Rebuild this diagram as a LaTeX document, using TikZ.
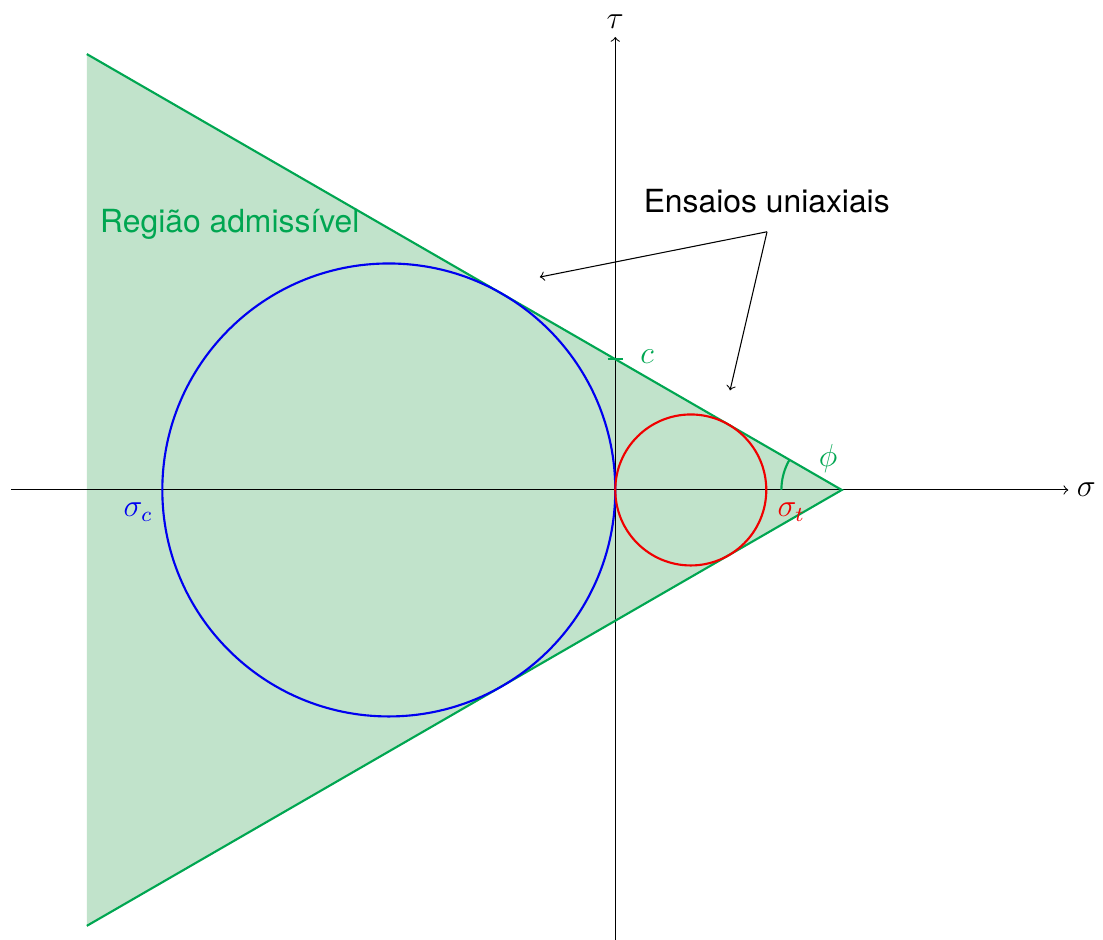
\documentclass[tikz,border=0pt]{standalone}
\usepackage{fontspec}
\setsansfont{TeX Gyre Heros}
\usetikzlibrary{calc}
\definecolor{mcgreen}{HTML}{00A651}
\definecolor{mcfill}{HTML}{C1E3CB}
\definecolor{mcblue}{HTML}{0000F0}
\definecolor{mcred}{HTML}{F00000}

\begin{document}
\begin{tikzpicture}[
  axis/.style={->, thin, black},
  env/.style={mcgreen, thick},
  lbl/.style={font=\large, inner sep=0pt},
  note/.style={font=\large\sffamily, inner sep=0pt, anchor=base west},
  ptr/.style={->, thin, black},
]
\useasboundingbox (-8.15,-5.96) rectangle (6.46,6.49);

% Envelope (phi = 30, c = sqrt(3))
\coordinate (apex) at (3,0);
\coordinate (top) at (-7,5.7735);
\coordinate (bot) at (-7,-5.7735);
\fill[mcfill] (apex) -- (top) -- (bot) -- cycle;

% Axes
\draw[axis] (-8,0) -- (6,0) node[right, lbl, inner sep=3pt] (sig) {$\sigma$};
\draw[axis] (0,-6) -- (0,6) node[above, lbl, inner sep=3pt] (tau) {$\tau$};

\draw[env] (top) -- (apex) -- (bot);

% Mohr circles
\draw[mcblue, thick] (-3,0) circle (3);
\draw[mcred, thick] (1,0) circle (1);

% Labels
\node[lbl, text=mcblue] (sc) at (-6.32,-0.29) {$\sigma_c$};
\node[lbl, text=mcred] (st) at (2.33,-0.29) {$\sigma_t$};

\coordinate (cpt) at (0,1.7321);
\draw[env] ($(cpt)+(-0.1,0)$) -- ($(cpt)+(0.1,0)$);
\node[lbl, text=mcgreen] (c) at (0.42,1.76) {$c$};

\draw[env] ($(apex)+(-0.8,0)$) arc (180:150:0.8);
\node[lbl, text=mcgreen] (phi) at (2.82,0.42) {$\phi$};

\node[note, text=mcgreen] (reg) at (-6.83,3.41) {Região admissível};
\node[note] (ens) at (0.37,3.67) {Ensaios uniaxiais};

\coordinate (p0) at (2.01,3.42);
\coordinate (p1) at (-1,2.82);
\coordinate (p2) at (1.52,1.32);
\draw[ptr] (p0) -- (p1);
\draw[ptr] (p0) -- (p2);

\end{tikzpicture}
\end{document}
